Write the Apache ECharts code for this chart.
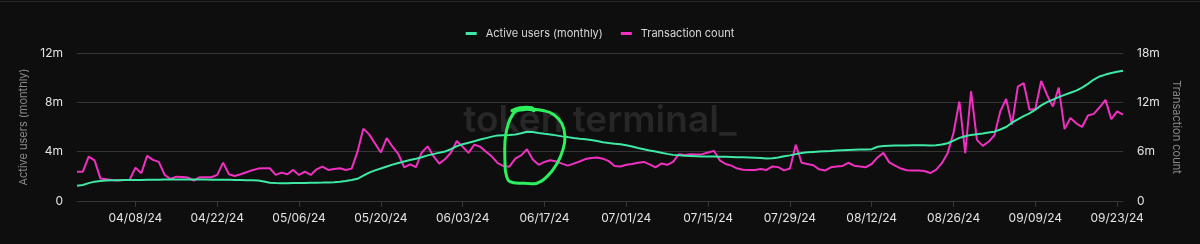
<!DOCTYPE html>
<html><head><meta charset="utf-8">
<script src="https://cdn.jsdelivr.net/npm/echarts@6/dist/echarts.min.js"></script>
<style>html,body{margin:0;padding:0;background:#0e0e0e;}#c{width:1200px;height:244px;}</style>
</head><body><div id="c"></div>
<script>
// Daily data from 03/29/24 to 09/24/24 (180 days), values in millions
const startDate = [2024, 2, 29];
const dayCount = 180;
const activeUsers = [
1.24,1.30,1.45,1.57,1.62,1.66,1.68,1.69,1.70,1.70,
1.71,1.71,1.72,1.72,1.73,1.74,1.74,1.75,1.75,1.75,
1.75,1.74,1.74,1.73,1.73,1.72,1.72,1.71,1.70,1.69,
1.68,1.66,1.58,1.48,1.45,1.44,1.44,1.45,1.45,1.46,
1.47,1.48,1.49,1.51,1.53,1.57,1.62,1.70,1.80,2.05,
2.30,2.48,2.63,2.80,2.95,3.08,3.20,3.32,3.42,3.55,
3.70,3.80,3.92,4.02,4.20,4.45,4.60,4.72,4.85,4.98,
5.10,5.22,5.32,5.34,5.36,5.40,5.50,5.62,5.60,5.52,
5.45,5.40,5.32,5.24,5.18,5.10,5.04,5.00,4.94,4.86,
4.76,4.70,4.65,4.61,4.52,4.42,4.30,4.20,4.10,4.02,
3.92,3.82,3.74,3.70,3.67,3.65,3.63,3.61,3.60,3.60,
3.59,3.58,3.57,3.55,3.54,3.52,3.50,3.48,3.45,3.46,
3.52,3.62,3.70,3.80,3.90,3.95,3.98,4.01,4.04,4.06,
4.09,4.11,4.13,4.15,4.17,4.18,4.20,4.40,4.46,4.48,
4.49,4.50,4.51,4.52,4.52,4.52,4.51,4.52,4.58,4.68,
4.90,5.12,5.25,5.36,5.42,5.48,5.55,5.62,5.80,6.00,
6.35,6.62,6.88,7.10,7.40,7.75,8.02,8.22,8.42,8.60,
8.78,8.95,9.20,9.50,9.85,10.10,10.25,10.38,10.48,10.56
];
const transactions = [
3.57,3.57,5.40,4.95,2.75,2.65,2.55,2.48,2.55,2.55,
4.06,3.37,5.49,5.00,4.76,3.17,2.68,2.96,2.92,2.85,
2.48,2.89,2.89,2.89,3.17,4.67,3.25,3.05,3.25,3.50,
3.75,3.94,3.98,3.98,3.17,3.45,3.25,3.78,3.17,3.57,
3.17,3.85,4.18,3.78,3.90,3.98,3.78,3.94,6.00,8.80,
8.10,7.00,5.90,7.65,6.60,5.70,4.10,4.45,4.11,5.90,
6.65,5.45,4.55,5.10,5.90,7.30,6.60,5.85,6.85,6.60,
6.00,5.40,4.60,4.25,4.18,5.15,5.55,6.30,5.05,4.40,
4.75,4.95,4.80,4.55,4.30,4.55,4.80,5.10,5.22,5.28,
5.15,4.85,4.25,4.20,4.40,4.50,4.65,4.75,4.45,4.10,
4.55,4.40,4.75,5.70,5.60,5.70,5.65,5.70,5.90,6.10,
4.95,4.50,4.30,3.95,3.80,3.78,3.78,3.90,3.78,4.20,
4.12,3.72,3.95,6.83,4.65,4.50,4.35,3.85,3.70,4.10,
4.20,4.27,4.65,4.30,4.20,4.11,4.50,5.30,5.85,4.70,
4.30,3.95,3.75,3.72,3.70,3.65,3.40,3.78,4.60,5.85,
8.30,12.10,5.82,13.35,7.44,6.71,7.20,8.00,10.90,12.40,
9.30,13.90,14.35,11.10,11.18,14.60,12.90,11.50,13.80,8.74,
10.10,9.45,9.00,10.40,10.60,11.40,12.30,9.96,10.90,10.50
];
const leftTicks = {min: 0, max: 12, interval: 4};
const rightTicks = {min: 0, max: 18, interval: 6};
const labelEvery = 14, labelOffset = 10;
const highlightIndex = 77;

const dates = [];
for (let i = 0; i < dayCount; i++) {
  const d = new Date(startDate[0], startDate[1], startDate[2] + i);
  const mm = String(d.getMonth() + 1).padStart(2, '0');
  const dd = String(d.getDate()).padStart(2, '0');
  const yy = String(d.getFullYear()).slice(2);
  dates.push(mm + '/' + dd + '/' + yy);
}
const showIdx = (i) => i >= labelOffset && (i - labelOffset) % labelEvery === 0;
const fmt = (v) => v === 0 ? '0' : v + 'm';
const FONT = 'Inter, "Noto Sans", sans-serif';

const chart = echarts.init(document.getElementById('c'), null, {renderer: 'canvas'});
chart.setOption({
  backgroundColor: '#0e0e0e',
  animation: false,
  textStyle: {fontFamily: FONT},
  legend: {
    top: 23, left: 'center', itemGap: 18, itemWidth: 11, itemHeight: 3, icon: 'rect',
    textStyle: {color: '#d8d8d8', fontSize: 11, fontFamily: FONT, padding: [0, 0, 0, 4]},
    data: ['Active users (monthly)', 'Transaction count']
  },
  grid: {left: 77, right: 77, top: 53, bottom: 43, containLabel: false, outerBoundsMode: 'none'},
  xAxis: {
    type: 'category', data: dates, boundaryGap: false,
    axisLine: {lineStyle: {color: '#363636', width: 1}},
    axisTick: {show: true, length: 6, interval: (i) => showIdx(i), lineStyle: {color: '#363636'}},
    axisLabel: {interval: (i) => showIdx(i), color: '#e4e4e4', fontSize: 12, margin: 11, fontFamily: FONT},
    splitLine: {show: false}
  },
  yAxis: [
    {
      type: 'value', min: leftTicks.min, max: leftTicks.max, interval: leftTicks.interval,
      name: 'Active users (monthly)', nameLocation: 'middle', nameGap: 47,
      nameTextStyle: {color: '#8a8a8a', fontSize: 11, fontFamily: FONT},
      axisLine: {show: false}, axisTick: {show: false},
      axisLabel: {formatter: fmt, color: '#e4e4e4', fontSize: 12, margin: 14, fontFamily: FONT},
      splitLine: {lineStyle: {color: '#363636', width: 1}}
    },
    {
      type: 'value', position: 'right', min: rightTicks.min, max: rightTicks.max, interval: rightTicks.interval,
      name: 'Transaction count', nameLocation: 'middle', nameGap: 48, nameRotate: -90,
      nameTextStyle: {color: '#8a8a8a', fontSize: 11, fontFamily: FONT},
      axisLine: {show: false}, axisTick: {show: false},
      axisLabel: {formatter: fmt, color: '#e4e4e4', fontSize: 12, margin: 14, fontFamily: FONT},
      splitLine: {show: false}
    }
  ],
  series: [
    {
      name: 'Transaction count', type: 'line', yAxisIndex: 1, data: transactions,
      showSymbol: false, symbol: 'none', lineStyle: {color: '#f030c0', width: 2}, itemStyle: {color: '#f030c0'}, z: 2
    },
    {
      name: 'Active users (monthly)', type: 'line', yAxisIndex: 0, data: activeUsers,
      showSymbol: false, symbol: 'none', lineStyle: {color: '#3ee8a5', width: 2}, itemStyle: {color: '#3ee8a5'}, z: 3
    }
  ]
});

// watermark + hand-drawn highlight loop anchored to the data
const wm = chart.convertToPixel({gridIndex: 0}, [dates[highlightIndex], leftTicks.max / 2]);
const anchor = chart.convertToPixel({xAxisIndex: 0, yAxisIndex: 0}, [dates[highlightIndex], activeUsers[highlightIndex]]);
const ax = anchor[0], ay = anchor[1];
const loop = [
  [-15, -21], [-7, -24], [5, -24], [7, -21],
  [5, -22], [0, -22.5], [-4, -22], [-12, -20], [-17, -12], [-20, -3], [-22, 10], [-22, 30], [-21, 42], [-17, 50],
  [-2, 51.5], [10, 51.5], [20, 45], [30, 32], [36, 18], [38, 5], [35, -8], [27, -17], [17, -21], [5, -22.5]
].map(p => [ax + p[0], ay + p[1]]);
chart.setOption({
  graphic: [
    {type: 'text', left: 'center', top: wm[1] - 25, z: 0, silent: true,
     style: {text: 'token terminal_', fill: '#272727', font: '600 37px ' + FONT}},
    {type: 'line', shape: {x1: 0, y1: 1.5, x2: chart.getWidth(), y2: 1.5}, style: {stroke: '#2a2a2a', lineWidth: 1}, z: 0, silent: true},
    {type: 'polyline', shape: {points: loop, smooth: 0.4}, style: {stroke: '#2df05c', lineWidth: 3, fill: null, lineCap: 'round', lineJoin: 'round'}, z: 10, silent: true}
  ]
});
</script></body></html>
